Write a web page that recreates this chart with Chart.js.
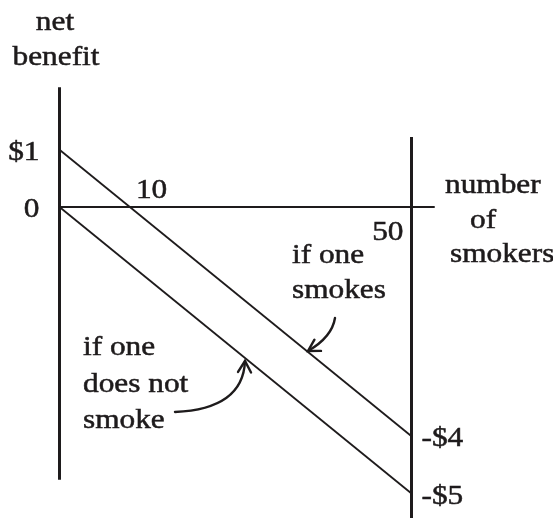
<!DOCTYPE html>
<html>
<head>
<meta charset="utf-8">
<script src="https://cdn.jsdelivr.net/npm/chart.js@4"></script>
<style>
  html, body { margin: 0; padding: 0; background: #fff; }
  #wrap { width: 553px; height: 518px; }
</style>
</head>
<body>
<div id="wrap"><canvas id="smokers" width="553" height="518"></canvas></div>
<script>
// number of smokers
const smokers = [0, 50];
// net benefit to one person
const ifSmokes = [1, -4];
const ifNotSmoke = [0, -5];

// tick labels
const leftTicks = [1, 0];
const leftTickLabels = ["$1", "0"];
const rightTicks = [-4, -5];
const rightTickLabels = ["-$4", "-$5"];
const xTicks = [10, 50];
const xTickLabels = ["10", "50"];

// how far the drawn axis lines reach
const leftAxisY = [2.09, -4.76];
const rightAxisY = [1.22, -5.6];
const xAxisX = [0, 53.3];

const INK = "#1e1b1c";
const FONT = "27px 'Liberation Serif', 'Times New Roman', serif";
const STRETCH = 1.16;

const xTickStyle = [
  { dx: 6, dy: -9, align: "left" },
  { dx: -8, dy: 33, align: "right" },
];

const notes = [
  { text: "net", x: 55, y: 30, align: "center" },
  { text: "benefit", x: 56, y: 65, align: "center" },
  { text: "number", x: 445, y: 193, align: "left" },
  { text: "of", x: 470, y: 228, align: "left" },
  { text: "smokers", x: 450, y: 262, align: "left" },
  { text: "if one", x: 292, y: 263, align: "left" },
  { text: "smokes", x: 292, y: 298, align: "left" },
  { text: "if one", x: 83, y: 355, align: "left" },
  { text: "does not", x: 83, y: 392, align: "left" },
  { text: "smoke", x: 83, y: 428, align: "left" },
];

// arrows: tip sits on a series line at pixel x
const arrows = [
  { dataset: 0, atX: 308, lift: -1, start: [27, -33], ctrl: [24, -14] },
  { dataset: 1, atX: 245, lift: 3, start: [-70, 51], ctrl: [-2, 48] },
];

const toPts = (xs, ys) => xs.map((x, i) => ({ x: x, y: ys[i] }));

function drawText(ctx, text, x, y, align) {
  ctx.save();
  ctx.translate(x, y);
  ctx.scale(STRETCH, 1);
  ctx.textAlign = align;
  ctx.textBaseline = "alphabetic";
  ctx.lineWidth = 0.5;
  ctx.fillText(text, 0, 0);
  ctx.strokeText(text, 0, 0);
  ctx.restore();
}

function lineYAt(chart, idx, px) {
  const pts = chart.getDatasetMeta(idx).data;
  const a = pts[0], b = pts[pts.length - 1];
  return a.y + ((px - a.x) * (b.y - a.y)) / (b.x - a.x);
}

const labelsPlugin = {
  id: "labels",
  afterDraw(chart) {
    const ctx = chart.ctx;
    const xs = chart.scales.x, ys = chart.scales.y;
    ctx.save();
    ctx.fillStyle = INK;
    ctx.strokeStyle = INK;
    ctx.font = FONT;

    leftTicks.forEach((v, i) => {
      drawText(ctx, leftTickLabels[i], xs.getPixelForValue(0) - 20, ys.getPixelForValue(v) + 10, "right");
    });
    rightTicks.forEach((v, i) => {
      drawText(ctx, rightTickLabels[i], xs.getPixelForValue(50) + 10, ys.getPixelForValue(v) + 10, "left");
    });
    xTicks.forEach((v, i) => {
      const s = xTickStyle[i];
      drawText(ctx, xTickLabels[i], xs.getPixelForValue(v) + s.dx, ys.getPixelForValue(0) + s.dy, s.align);
    });
    notes.forEach((n) => drawText(ctx, n.text, n.x, n.y, n.align));

    ctx.lineWidth = 2.4;
    ctx.lineCap = "round";
    arrows.forEach((a) => {
      const tx = a.atX, ty = lineYAt(chart, a.dataset, a.atX) + a.lift;
      const sx = tx + a.start[0], sy = ty + a.start[1];
      const cx = tx + a.ctrl[0], cy = ty + a.ctrl[1];
      ctx.beginPath();
      ctx.moveTo(sx, sy);
      ctx.quadraticCurveTo(cx, cy, tx, ty);
      ctx.stroke();
      const ang = Math.atan2(ty - cy, tx - cx);
      const L = 13, spread = Math.PI / 6;
      ctx.beginPath();
      ctx.moveTo(tx - L * Math.cos(ang - spread), ty - L * Math.sin(ang - spread));
      ctx.lineTo(tx, ty);
      ctx.lineTo(tx - L * Math.cos(ang + spread), ty - L * Math.sin(ang + spread));
      ctx.stroke();
    });
    ctx.restore();
  },
};

const lineSet = (data, width) => ({
  data: data,
  showLine: true,
  borderColor: INK,
  borderWidth: width,
  pointRadius: 0,
  pointHoverRadius: 0,
  clip: false,
});

new Chart(document.getElementById("smokers"), {
  type: "scatter",
  data: {
    datasets: [
      lineSet(toPts(smokers, ifSmokes), 1.8),
      lineSet(toPts(smokers, ifNotSmoke), 1.8),
      lineSet(toPts([0, 0], leftAxisY), 3),
      lineSet(toPts([50, 50], rightAxisY), 3),
      lineSet(toPts(xAxisX, [0, 0]), 2),
    ],
  },
  options: {
    responsive: false,
    animation: false,
    layout: { padding: 0 },
    plugins: {
      legend: { display: false },
      tooltip: { enabled: false },
    },
    scales: {
      x: { type: "linear", display: false, min: -8.452, max: 70.099 },
      y: { type: "linear", display: false, min: -5.4275, max: 3.6126 },
    },
  },
  plugins: [labelsPlugin],
});
</script>
</body>
</html>
